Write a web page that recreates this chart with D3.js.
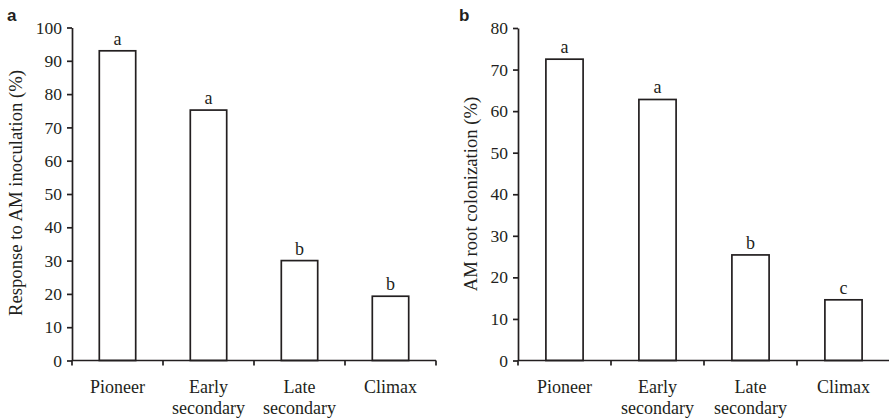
<!DOCTYPE html>
<html>
<head>
<meta charset="utf-8">
<script src="https://cdn.jsdelivr.net/npm/d3@7"></script>
<style>
  body { margin: 0; background: #fff; }
  svg text { font-family: 'Liberation Serif', 'Times New Roman', Times, 'DejaVu Serif', serif; fill: #231f20; }
</style>
</head>
<body>
<svg id="chart" width="889" height="419"></svg>
<script>
var categories = [["Pioneer"], ["Early", "secondary"], ["Late", "secondary"], ["Climax"]];
var responseValues = [93, 75.2, 30, 19.3];
var responseLetters = ["a", "a", "b", "b"];
var colonValues = [72.5, 62.8, 25.4, 14.6];
var colonLetters = ["a", "a", "b", "c"];
var responseTicks = [0, 10, 20, 30, 40, 50, 60, 70, 80, 90, 100];
var colonTicks = [0, 10, 20, 30, 40, 50, 60, 70, 80];

var svg = d3.select('#chart');
var ink = '#231f20';
var serif = "'Liberation Serif', 'Times New Roman', Times, 'DejaVu Serif', serif";

function panel(opt) {
  var g = svg.append('g');
  var names = categories.map(function(c) { return c.join(' '); });

  var x = d3.scaleBand()
      .domain(names)
      .range([opt.left, opt.right])
      .paddingInner(0.6)
      .paddingOuter(0.3);
  var y = d3.scaleLinear()
      .domain([0, opt.max])
      .range([opt.bottom, opt.top]);

  // y axis
  g.append('g')
      .attr('transform', 'translate(' + opt.left + ',0)')
      .call(d3.axisLeft(y).tickValues(opt.ticks).tickSize(5).tickSizeOuter(0).tickPadding(5))
      .attr('font-family', serif)
      .attr('font-size', 17.5)
      .call(function(a) {
        a.select('.domain').attr('stroke', ink).attr('stroke-width', 1.7);
        a.selectAll('.tick line').attr('stroke', ink).attr('stroke-width', 1.7);
        a.selectAll('text').attr('fill', ink);
      });

  // bars
  g.selectAll('rect.bar')
    .data(opt.values)
    .enter().append('rect')
      .attr('class', 'bar')
      .attr('x', function(d, i) { return x(names[i]); })
      .attr('y', function(d) { return y(d); })
      .attr('width', x.bandwidth())
      .attr('height', function(d) { return y(0) - y(d); })
      .attr('fill', '#fff')
      .attr('stroke', ink)
      .attr('stroke-width', 1.7);

  // significance letters
  g.selectAll('text.sig')
    .data(opt.values)
    .enter().append('text')
      .attr('class', 'sig')
      .attr('x', function(d, i) { return x(names[i]) + x.bandwidth() / 2; })
      .attr('y', function(d) { return y(d) - 6; })
      .attr('text-anchor', 'middle')
      .attr('font-size', 18)
      .text(function(d, i) { return opt.letters[i]; });

  // x axis line with ticks at category boundaries
  g.append('line')
      .attr('x1', opt.left).attr('x2', opt.right)
      .attr('y1', y(0)).attr('y2', y(0))
      .attr('stroke', ink).attr('stroke-width', 1.7);
  var step = x.step();
  d3.range(names.length + 1).forEach(function(i) {
    g.append('line')
        .attr('x1', opt.left + i * step).attr('x2', opt.left + i * step)
        .attr('y1', y(0)).attr('y2', y(0) + 5)
        .attr('stroke', ink).attr('stroke-width', 1.7);
  });

  // category labels
  var lab = g.selectAll('text.cat')
    .data(categories)
    .enter().append('text')
      .attr('class', 'cat')
      .attr('text-anchor', 'middle')
      .attr('font-size', 18)
      .attr('transform', function(d, i) {
        return 'translate(' + (x(names[i]) + x.bandwidth() / 2) + ',' + (y(0) + 32) + ')';
      });
  lab.selectAll('tspan')
    .data(function(d) { return d; })
    .enter().append('tspan')
      .attr('x', 0)
      .attr('dy', function(d, i) { return i ? 21.5 : 0; })
      .text(function(d) { return d; });

  // y title
  g.append('text')
      .attr('transform', 'translate(' + opt.titleX + ',' + opt.titleY + ')rotate(-90)')
      .attr('text-anchor', 'middle')
      .attr('font-size', 18.7)
      .text(opt.title);

  // panel letter
  g.append('text')
      .attr('x', opt.letterX).attr('y', 21)
      .style('font-family', "'Liberation Sans', Arial, sans-serif")
      .attr('font-weight', 'bold')
      .attr('font-size', 17)
      .attr('fill', '#000')
      .text(opt.panel);
}

panel({
  left: 72, right: 436, top: 27.5, bottom: 360.5, max: 100,
  values: responseValues, letters: responseLetters, ticks: responseTicks,
  title: 'Response to AM inoculation (%)', titleX: 22, titleY: 193, letterX: 7, panel: 'a'
});

panel({
  left: 518, right: 890, top: 28, bottom: 360.5, max: 80,
  values: colonValues, letters: colonLetters, ticks: colonTicks,
  title: 'AM root colonization (%)', titleX: 477, titleY: 194, letterX: 459, panel: 'b'
});
</script>
</body>
</html>
